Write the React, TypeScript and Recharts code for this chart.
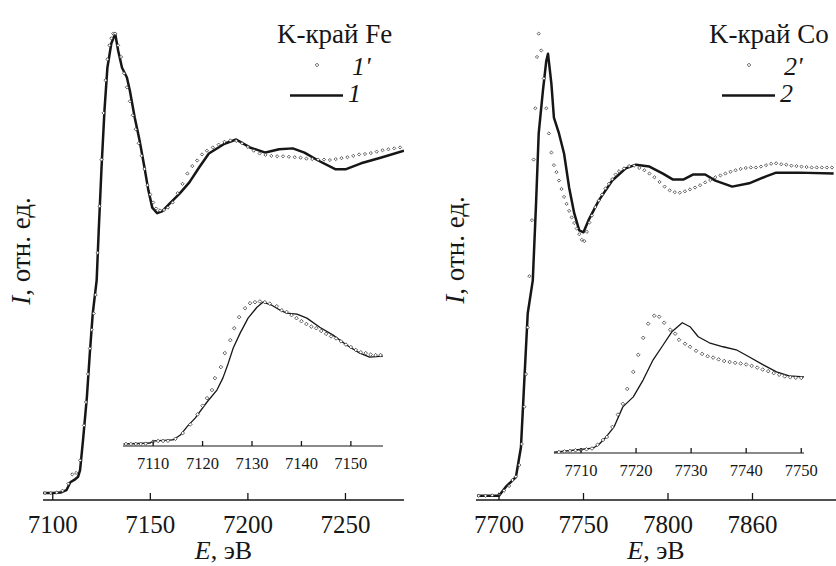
import React from 'react';
import { LineChart, Line, XAxis, YAxis } from 'recharts';

type Pt = [number, number];

// Fe K-edge, curve 1 (solid) and 1' (markers); E in eV, I normalised to the main peak
const feCalc: Pt[] = [
  [7095, 0.015], [7100, 0.015], [7104, 0.016], [7107, 0.021], [7109, 0.038], [7111, 0.043],
  [7113, 0.05], [7114, 0.064], [7115.5, 0.128], [7117.5, 0.221], [7119, 0.315], [7120.5, 0.4],
  [7122.5, 0.471], [7123.5, 0.572], [7125, 0.713], [7126.5, 0.835], [7128, 0.927], [7130, 0.979],
  [7132, 1.0], [7133.5, 0.964], [7135.5, 0.927], [7138, 0.906], [7139.5, 0.878], [7142, 0.82],
  [7144.5, 0.771], [7147, 0.713], [7149, 0.664], [7151, 0.627], [7153.5, 0.615], [7156, 0.619],
  [7160, 0.636], [7165, 0.657], [7170, 0.681], [7175, 0.713], [7180, 0.743], [7188, 0.764],
  [7194, 0.773], [7201, 0.756], [7209, 0.745], [7216, 0.752], [7223, 0.754], [7229, 0.745],
  [7236, 0.728], [7245, 0.709], [7250, 0.709], [7258, 0.722], [7268, 0.734], [7280, 0.749],
];
const feExp: Pt[] = [
  [7096, 0.015], [7099, 0.015], [7102, 0.016], [7105, 0.02], [7108, 0.035], [7110, 0.055],
  [7112, 0.058], [7114, 0.085], [7116, 0.16], [7117, 0.21], [7118, 0.27], [7119, 0.325],
  [7120, 0.365], [7121, 0.4], [7122, 0.44], [7123, 0.53], [7124, 0.63], [7125, 0.73],
  [7126, 0.83], [7127, 0.9], [7128, 0.945], [7129, 0.975], [7130, 0.99], [7131, 1.0],
  [7132, 1.0], [7133.5, 0.975], [7135, 0.95], [7136.5, 0.915], [7138, 0.885], [7139.5, 0.855],
  [7141, 0.825], [7142.5, 0.795], [7144, 0.765], [7145.5, 0.738], [7147, 0.71], [7148.5, 0.675],
  [7150, 0.655], [7151.5, 0.638], [7153, 0.625], [7155, 0.621], [7157, 0.622], [7159, 0.627],
  [7161.5, 0.638], [7164, 0.658], [7166.5, 0.678], [7169, 0.7], [7171.5, 0.716], [7174, 0.728],
  [7176.5, 0.741], [7179, 0.749], [7182, 0.756], [7185, 0.762], [7188, 0.768], [7191, 0.771],
  [7194, 0.77], [7197, 0.765], [7200, 0.757], [7203, 0.749], [7206, 0.743], [7209, 0.74],
  [7212, 0.738], [7215, 0.737], [7218, 0.737], [7221, 0.736], [7224, 0.735], [7227, 0.734],
  [7230, 0.732], [7233, 0.731], [7236, 0.73], [7239, 0.73], [7242, 0.729], [7245, 0.731],
  [7248, 0.733], [7251, 0.735], [7254, 0.738], [7257, 0.741], [7260, 0.742], [7263, 0.744],
  [7266, 0.747], [7269, 0.75], [7272, 0.752], [7275, 0.754], [7278, 0.756],
];
const feTicks = [7100, 7150, 7200, 7250];

// Fe edge region (inset)
const feZoomCalc: Pt[] = [
  [7104, 0.014], [7109.4, 0.021], [7110, 0.035], [7114, 0.042], [7115.5, 0.076], [7117, 0.14],
  [7118.5, 0.194], [7120.9, 0.306], [7122.9, 0.389], [7124.1, 0.472], [7125.2, 0.576],
  [7126.2, 0.681], [7127.6, 0.785], [7129.2, 0.889], [7131, 0.965], [7132.2, 1.0], [7134, 0.979],
  [7135.7, 0.944], [7137, 0.924], [7139.1, 0.917], [7141.1, 0.889], [7143.7, 0.826],
  [7146.4, 0.771], [7149.2, 0.701], [7151.8, 0.646], [7153.8, 0.618], [7156.5, 0.625],
];
const feZoomExp: Pt[] = [
  [7104.5, 0.014], [7105.5, 0.014], [7106.5, 0.014], [7107.5, 0.014], [7108.5, 0.016], [7110, 0.03],
  [7111, 0.035], [7112, 0.035], [7113, 0.036], [7114.5, 0.05], [7116, 0.09], [7117.5, 0.15],
  [7119, 0.22], [7120, 0.28], [7120.9, 0.333], [7121.9, 0.389], [7122.5, 0.472], [7123.7, 0.549],
  [7124.5, 0.646], [7125.6, 0.736], [7126.4, 0.819], [7127.4, 0.896], [7128.6, 0.958],
  [7129.6, 0.993], [7130.6, 1.0], [7131.6, 1.005], [7132.6, 1.0], [7133.6, 0.99], [7135, 0.972],
  [7136, 0.944], [7137, 0.932], [7138, 0.91], [7139, 0.889], [7140, 0.868], [7141, 0.848],
  [7142, 0.83], [7143, 0.819], [7144, 0.8], [7145, 0.78], [7146, 0.762], [7147, 0.748],
  [7148, 0.728], [7149, 0.705], [7150, 0.688], [7151, 0.668], [7152, 0.652], [7153, 0.646],
  [7154, 0.636], [7155, 0.632], [7156, 0.632],
];
const feZoomTicks = [7110, 7120, 7130, 7140, 7150];

// Co K-edge, curve 2 (solid) and 2' (markers)
const coCalc: Pt[] = [
  [7687, 0.009], [7700, 0.009], [7704, 0.028], [7710, 0.049], [7713, 0.113], [7715, 0.257],
  [7717, 0.4], [7720, 0.471], [7722, 0.642], [7723.5, 0.786], [7726, 0.878], [7728, 0.942],
  [7729, 0.957], [7731, 0.893], [7732.5, 0.82], [7735.5, 0.786], [7738.5, 0.743], [7741.5, 0.67],
  [7744.5, 0.615], [7747.5, 0.578], [7750, 0.574], [7753, 0.6], [7759, 0.642], [7767, 0.685],
  [7775, 0.711], [7781, 0.719], [7789, 0.715], [7797, 0.7], [7803, 0.687], [7809, 0.687],
  [7815, 0.698], [7822, 0.698], [7828, 0.685], [7838, 0.672], [7848, 0.679], [7858, 0.694],
  [7864, 0.702], [7877, 0.702], [7898, 0.7],
];
const coExp: Pt[] = [
  [7688, 0.009], [7692, 0.009], [7696, 0.01], [7700, 0.012], [7703, 0.02], [7706, 0.03],
  [7708, 0.043], [7710, 0.05], [7712, 0.075], [7713.5, 0.12], [7715, 0.2], [7716, 0.27],
  [7717, 0.37], [7718, 0.48], [7719.5, 0.6], [7720.5, 0.73], [7721.5, 0.84], [7722.5, 0.95],
  [7723.5, 1.0], [7725, 0.964], [7726.5, 0.904], [7728, 0.84], [7729.5, 0.786], [7731, 0.745],
  [7732.5, 0.718], [7734, 0.703], [7735.5, 0.685], [7737, 0.667], [7738.5, 0.65], [7740, 0.635],
  [7741.5, 0.62], [7743, 0.606], [7744.5, 0.594], [7746, 0.582], [7747.5, 0.57], [7749, 0.558],
  [7750.5, 0.555], [7752, 0.575], [7753.5, 0.595], [7755, 0.61], [7757, 0.628], [7759, 0.642],
  [7761, 0.655], [7763, 0.668], [7765, 0.678], [7767, 0.688], [7769, 0.698], [7771, 0.705],
  [7774, 0.711], [7777, 0.716], [7780, 0.717], [7783, 0.712], [7786, 0.707], [7789, 0.7],
  [7792, 0.692], [7795, 0.682], [7798, 0.672], [7801, 0.664], [7804, 0.66], [7807, 0.659],
  [7810, 0.662], [7813, 0.666], [7816, 0.67], [7819, 0.675], [7822, 0.681], [7825, 0.686],
  [7828, 0.692], [7831, 0.696], [7834, 0.7], [7837, 0.704], [7840, 0.707], [7843, 0.71],
  [7846, 0.712], [7849, 0.713], [7852, 0.713], [7855, 0.715], [7858, 0.718], [7861, 0.721],
  [7864, 0.722], [7867, 0.72], [7870, 0.719], [7873, 0.717], [7876, 0.716], [7879, 0.715],
  [7882, 0.714], [7885, 0.713], [7888, 0.713], [7891, 0.713], [7894, 0.713], [7897, 0.713],
];
const coTicks = [7700, 7750, 7800, 7850];
const coTickLabels = ['7700', '7750', '7800', '7860'];

// Co edge region (inset)
const coZoomCalc: Pt[] = [
  [7705.1, 0.007], [7709, 0.022], [7712.2, 0.036], [7713.2, 0.06], [7714.4, 0.109], [7716, 0.19],
  [7717.6, 0.336], [7719.5, 0.409], [7721.3, 0.533], [7723.1, 0.679], [7724.7, 0.774],
  [7726.5, 0.883], [7728.4, 0.949], [7729.8, 0.92], [7731.3, 0.847], [7733.3, 0.803],
  [7735.8, 0.774], [7738.2, 0.752], [7740.5, 0.701], [7743.1, 0.642], [7745.5, 0.591],
  [7747.8, 0.562], [7750.5, 0.555],
];
const coZoomExp: Pt[] = [
  [7706, 0.007], [7707, 0.012], [7708, 0.015], [7709, 0.02], [7710, 0.022], [7711, 0.027],
  [7712, 0.033], [7713, 0.06], [7714, 0.095], [7714.7, 0.117], [7715.7, 0.19], [7716.7, 0.28],
  [7717.6, 0.358], [7718.4, 0.467], [7719.5, 0.591], [7720.4, 0.715], [7721.3, 0.839],
  [7722.2, 0.942], [7723.3, 1.0], [7724.2, 0.993], [7725.1, 0.949], [7726.2, 0.898],
  [7727.1, 0.869], [7727.8, 0.825], [7728.9, 0.796], [7729.8, 0.774], [7730.9, 0.745],
  [7732, 0.722], [7733, 0.705], [7734, 0.695], [7735, 0.682], [7736, 0.67], [7737, 0.663],
  [7738, 0.657], [7739, 0.652], [7740, 0.645], [7741, 0.635], [7742, 0.622], [7743, 0.608],
  [7744, 0.596], [7745, 0.582], [7746, 0.57], [7747, 0.558], [7748, 0.552], [7749, 0.548],
  [7750, 0.547],
];
const coZoomTicks = [7710, 7720, 7730, 7740, 7750];

const SERIF = "'Liberation Serif', 'DejaVu Serif', serif";
const INK = '#161616';
const txt = { fontFamily: SERIF };

const rows = (pts: Pt[]) => pts.map(([e, v]) => ({ e, v }));

// small open diamond used for the experimental points
const Diamond = (props: any) => {
  const { cx, cy, size } = props;
  if (cx == null || cy == null || Number.isNaN(cx) || Number.isNaN(cy)) return null;
  return (
    <path
      d={`M${cx},${cy - size}L${cx + size},${cy}L${cx},${cy + size}L${cx - size},${cy}Z`}
      fill="#fff"
      stroke="#3a3a3a"
      strokeWidth={0.8}
    />
  );
};

// tick mark pointing into the plot, label below the axis
const InTick = (props: any) => {
  const { x, y, payload, index, len, gap, fs, names } = props;
  const text = names ? names[index] : String(payload.value);
  return (
    <g>
      <line x1={x} x2={x} y1={y} y2={y - len} stroke={INK} strokeWidth={1.3} />
      <text x={x} y={y + gap} textAnchor="middle" style={txt} fontSize={fs} fill={INK}>
        {text}
      </text>
    </g>
  );
};

const xTitle = (props: any) => {
  const { x, y, width } = props.viewBox;
  return (
    <text x={x + width / 2} y={y + 59} textAnchor="middle" style={txt} fontSize={26} fill={INK}>
      <tspan fontStyle="italic">E</tspan>, эВ
    </text>
  );
};

interface PanelProps {
  left: number;
  top: number;
  width: number;
  height: number;
  margin: { top: number; right: number; bottom: number; left: number };
  axisHeight: number;
  xDomain: [number, number];
  yDomain: [number, number];
  calc: Pt[];
  exp: Pt[];
  ticks: number[];
  names?: string[];
  inset?: boolean;
}

const Panel: React.FC<PanelProps> = (p) => {
  const st = p.inset
    ? { fs: 16.5, len: 5, gap: 22.5, lw: 1.3, aw: 1.2, dot: 1.8 }
    : { fs: 25, len: 7, gap: 33, lw: 2.5, aw: 1.4, dot: 1.6 };
  return (
    <div style={{ position: 'absolute', left: p.left, top: p.top, width: p.width, height: p.height }}>
      <LineChart width={p.width} height={p.height} margin={p.margin}>
        <XAxis
          type="number"
          dataKey="e"
          domain={p.xDomain}
          allowDataOverflow
          ticks={p.ticks}
          interval={0}
          height={p.axisHeight}
          tickLine={false}
          tickSize={0}
          tickMargin={0}
          axisLine={{ stroke: INK, strokeWidth: st.aw }}
          tick={<InTick len={st.len} gap={st.gap} fs={st.fs} names={p.names} />}
          label={p.inset ? undefined : xTitle}
        />
        <YAxis
          type="number"
          domain={p.yDomain}
          allowDataOverflow
          width={0}
          tick={false}
          tickLine={false}
          axisLine={{ stroke: INK, strokeWidth: st.aw, markerStart: 'url(#axisArrow)' }}
        />
        <Line
          data={rows(p.calc)}
          dataKey="v"
          type="linear"
          stroke={INK}
          strokeWidth={st.lw}
          strokeLinejoin="round"
          dot={false}
          activeDot={false}
          isAnimationActive={false}
        />
        <Line
          data={rows(p.exp)}
          dataKey="v"
          stroke="none"
          dot={<Diamond size={st.dot} />}
          activeDot={false}
          isAnimationActive={false}
        />
      </LineChart>
    </div>
  );
};

const LegendBlock: React.FC<{ x: number; title: string; mark: string }> = ({ x, title, mark }) => (
  <g style={txt} fill={INK}>
    <text x={x} y={43} fontSize={27}>{title}</text>
    <Diamond cx={x + 40} cy={65} size={1.8} />
    <text x={x + 75} y={75} fontSize={26} fontStyle="italic">{mark}'</text>
    <line x1={x + 13} x2={x + 66} y1={95.5} y2={95.5} stroke={INK} strokeWidth={2.5} />
    <text x={x + 71} y={102} fontSize={26} fontStyle="italic">{mark}</text>
  </g>
);

const YTitle: React.FC<{ cx: number; cy: number }> = ({ cx, cy }) => (
  <text
    transform={`translate(${cx},${cy}) rotate(-90)`}
    textAnchor="middle"
    dominantBaseline="central"
    style={txt}
    fontSize={27}
    fill={INK}
  >
    <tspan fontStyle="italic">I</tspan>, отн. ед.
  </text>
);

export default function App() {
  return (
    <div style={{ position: 'absolute', left: 0, top: 0, width: 836, height: 566, background: '#fff', overflow: 'hidden' }}>
      <svg width={0} height={0} style={{ position: 'absolute' }}>
        <defs>
          <marker
            id="axisArrow"
            viewBox="0 0 13 8"
            refX={13}
            refY={4}
            markerWidth={13}
            markerHeight={8}
            markerUnits="userSpaceOnUse"
            orient="auto-start-reverse"
          >
            <path d="M0,0 L13,4 L0,8 L2.5,4 Z" fill={INK} />
          </marker>
        </defs>
      </svg>

      <Panel
        left={0} top={0} width={418} height={566}
        margin={{ top: 15, right: 14, bottom: 0, left: 43 }}
        axisHeight={66}
        xDomain={[7095, 7280]} yDomain={[0, 1.04]}
        calc={feCalc} exp={feExp} ticks={feTicks}
      />
      <Panel
        left={418} top={0} width={418} height={566}
        margin={{ top: 15, right: 0, bottom: 0, left: 58 }}
        axisHeight={66}
        xDomain={[7686.4, 7899.4]} yDomain={[0, 1.04]}
        calc={coCalc} exp={coExp} ticks={coTicks} names={coTickLabels}
      />
      <Panel
        inset
        left={100} top={280} width={300} height={200}
        margin={{ top: 15, right: 17, bottom: 0, left: 23 }}
        axisHeight={34}
        xDomain={[7103.9, 7156.5]} yDomain={[0, 1.05]}
        calc={feZoomCalc} exp={feZoomExp} ticks={feZoomTicks}
      />
      <Panel
        inset
        left={530} top={285} width={300} height={200}
        margin={{ top: 17, right: 26, bottom: 0, left: 24 }}
        axisHeight={32}
        xDomain={[7705.1, 7750.5]} yDomain={[0, 1.1]}
        calc={coZoomCalc} exp={coZoomExp} ticks={coZoomTicks}
      />

      <svg width={836} height={566} style={{ position: 'absolute', left: 0, top: 0, pointerEvents: 'none' }}>
        <YTitle cx={21} cy={251} />
        <YTitle cx={455} cy={250} />
        <LegendBlock x={277} title="K-край Fe" mark="1" />
        <LegendBlock x={709} title="K-край Co" mark="2" />
      </svg>
    </div>
  );
}
